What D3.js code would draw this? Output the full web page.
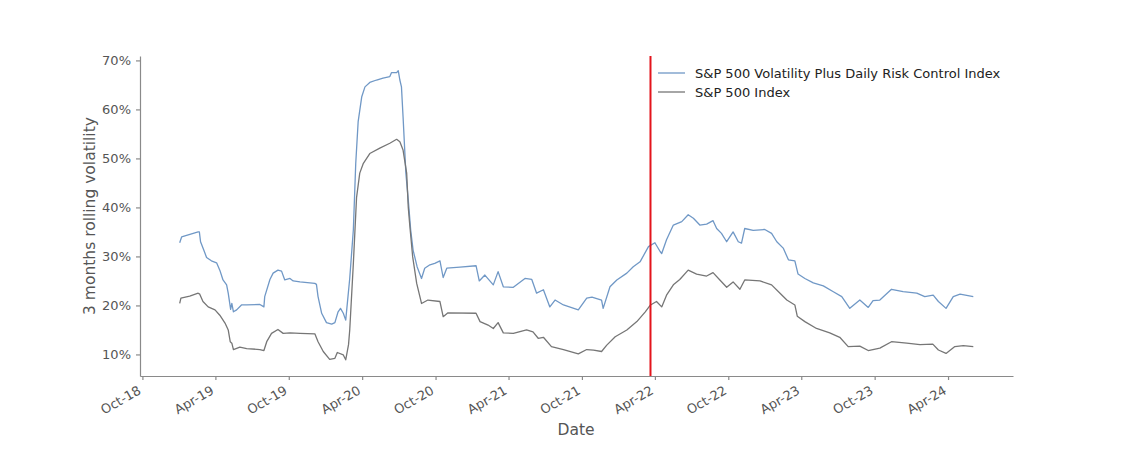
<!DOCTYPE html>
<html>
<head>
<meta charset="utf-8">
<script src="https://cdn.jsdelivr.net/npm/d3@7"></script>
<style>
  body { margin: 0; background: #fff; }
  text { font-family: "DejaVu Sans", sans-serif; }
</style>
</head>
<body>
<script>
// 3 months rolling volatility (percent)
const volPlus = [
  ["2019-01-02", 32.8], ["2019-01-07", 34.0], ["2019-01-15", 34.2], ["2019-02-17", 35.0],
  ["2019-02-20", 35.0], ["2019-02-23", 33.0], ["2019-03-03", 31.3], ["2019-03-10", 29.8],
  ["2019-03-22", 29.1], ["2019-04-04", 28.7], ["2019-04-12", 27.2], ["2019-04-20", 25.2],
  ["2019-04-29", 24.2], ["2019-05-03", 22.5], ["2019-05-09", 19.2], ["2019-05-12", 20.4],
  ["2019-05-16", 18.7], ["2019-05-24", 19.1], ["2019-06-05", 20.1], ["2019-06-18", 20.1],
  ["2019-07-21", 20.2], ["2019-07-31", 19.7], ["2019-08-02", 21.8], ["2019-08-15", 25.3],
  ["2019-08-23", 26.6], ["2019-09-04", 27.2], ["2019-09-13", 27.0], ["2019-09-21", 25.2],
  ["2019-10-04", 25.5], ["2019-10-12", 25.0], ["2019-10-29", 24.8], ["2019-12-05", 24.5],
  ["2019-12-09", 24.3], ["2019-12-13", 21.8], ["2019-12-22", 18.4], ["2020-01-03", 16.5],
  ["2020-01-16", 16.2], ["2020-01-24", 16.5], ["2020-02-01", 18.7], ["2020-02-07", 19.4],
  ["2020-02-14", 18.4], ["2020-02-20", 17.0], ["2020-03-01", 25.5], ["2020-03-10", 35.4],
  ["2020-03-16", 49.0], ["2020-03-22", 57.5], ["2020-03-31", 62.6], ["2020-04-08", 64.6],
  ["2020-04-20", 65.5], ["2020-05-07", 66.0], ["2020-05-23", 66.4], ["2020-06-09", 66.7],
  ["2020-06-13", 67.5], ["2020-06-26", 67.5], ["2020-06-30", 67.9], ["2020-07-04", 66.0],
  ["2020-07-08", 64.6], ["2020-07-12", 58.5], ["2020-07-19", 47.0], ["2020-07-25", 41.5],
  ["2020-07-31", 35.4], ["2020-08-06", 31.3], ["2020-08-16", 27.9], ["2020-08-27", 25.5],
  ["2020-09-04", 27.6], ["2020-09-17", 28.3], ["2020-09-29", 28.6], ["2020-10-12", 29.1],
  ["2020-10-20", 25.7], ["2020-10-29", 27.6], ["2020-12-01", 27.8], ["2021-01-10", 28.1],
  ["2021-01-18", 25.0], ["2021-02-01", 26.2], ["2021-02-22", 24.2], ["2021-03-06", 26.9],
  ["2021-03-19", 23.8], ["2021-04-13", 23.7], ["2021-05-12", 25.5], ["2021-05-29", 25.3],
  ["2021-06-10", 22.5], ["2021-06-27", 23.2], ["2021-07-13", 19.7], ["2021-07-26", 21.1],
  ["2021-08-16", 20.1], ["2021-09-22", 19.1], ["2021-10-13", 21.5], ["2021-10-26", 21.7],
  ["2021-11-19", 21.1], ["2021-11-23", 19.4], ["2021-12-10", 23.8], ["2021-12-27", 25.2],
  ["2022-01-21", 26.6], ["2022-02-06", 27.9], ["2022-02-23", 28.9], ["2022-03-16", 32.0],
  ["2022-04-01", 32.8], ["2022-04-14", 31.0], ["2022-04-18", 30.6], ["2022-04-30", 33.4],
  ["2022-05-17", 36.4], ["2022-06-07", 37.1], ["2022-06-23", 38.5], ["2022-07-06", 37.8],
  ["2022-07-22", 36.4], ["2022-08-08", 36.6], ["2022-08-24", 37.3], ["2022-09-02", 35.7],
  ["2022-09-14", 34.7], ["2022-09-27", 33.0], ["2022-10-13", 35.0], ["2022-10-26", 33.0],
  ["2022-11-03", 32.7], ["2022-11-11", 35.7], ["2022-12-02", 35.3], ["2022-12-31", 35.5],
  ["2023-01-17", 34.7], ["2023-01-30", 33.0], ["2023-02-15", 31.7], ["2023-02-28", 29.3],
  ["2023-03-16", 29.1], ["2023-03-24", 26.4], ["2023-04-10", 25.5], ["2023-05-01", 24.6],
  ["2023-05-26", 24.0], ["2023-06-20", 22.8], ["2023-07-11", 21.8], ["2023-07-31", 19.4],
  ["2023-08-25", 21.1], ["2023-09-15", 19.6], ["2023-09-27", 21.0], ["2023-10-14", 21.1],
  ["2023-11-12", 23.3], ["2023-12-11", 22.8], ["2024-01-14", 22.5], ["2024-02-03", 21.8],
  ["2024-02-24", 22.1], ["2024-03-08", 20.8], ["2024-03-27", 19.4], ["2024-04-14", 21.8],
  ["2024-05-01", 22.3], ["2024-06-03", 21.8]
];

const spx = [
  ["2019-01-02", 20.4], ["2019-01-05", 21.5], ["2019-01-27", 21.9], ["2019-02-17", 22.5],
  ["2019-02-21", 22.3], ["2019-03-01", 20.8], ["2019-03-14", 19.7], ["2019-03-31", 19.1],
  ["2019-04-12", 18.0], ["2019-04-25", 16.4], ["2019-05-03", 15.0], ["2019-05-08", 12.6],
  ["2019-05-12", 12.3], ["2019-05-16", 11.0], ["2019-06-01", 11.5], ["2019-06-18", 11.2],
  ["2019-07-21", 11.0], ["2019-07-31", 10.8], ["2019-08-07", 12.6], ["2019-08-19", 14.3],
  ["2019-09-04", 15.1], ["2019-09-17", 14.3], ["2019-10-04", 14.4], ["2019-10-29", 14.3],
  ["2019-12-05", 14.2], ["2019-12-13", 12.6], ["2019-12-26", 10.6], ["2020-01-11", 9.0],
  ["2020-01-24", 9.2], ["2020-01-30", 10.4], ["2020-02-14", 9.9], ["2020-02-20", 8.9],
  ["2020-02-27", 12.0], ["2020-03-01", 15.0], ["2020-03-10", 28.5], ["2020-03-18", 42.0],
  ["2020-03-26", 47.0], ["2020-04-04", 49.0], ["2020-04-20", 51.0], ["2020-05-15", 52.1],
  ["2020-06-09", 53.1], ["2020-06-26", 53.9], ["2020-07-04", 53.4], ["2020-07-12", 51.7],
  ["2020-07-21", 47.0], ["2020-07-25", 40.0], ["2020-07-29", 36.1], ["2020-08-05", 29.9],
  ["2020-08-15", 24.5], ["2020-08-27", 20.4], ["2020-09-12", 21.1], ["2020-10-12", 20.8],
  ["2020-10-20", 17.7], ["2020-11-01", 18.5], ["2021-01-10", 18.4], ["2021-01-20", 16.7],
  ["2021-02-09", 16.0], ["2021-02-22", 15.3], ["2021-03-06", 16.5], ["2021-03-19", 14.4],
  ["2021-04-13", 14.3], ["2021-05-16", 15.0], ["2021-06-01", 14.6], ["2021-06-14", 13.3],
  ["2021-06-27", 13.5], ["2021-07-17", 11.6], ["2021-08-16", 11.0], ["2021-09-22", 10.1],
  ["2021-10-13", 11.0], ["2021-10-30", 10.9], ["2021-11-19", 10.6], ["2021-12-02", 11.9],
  ["2021-12-23", 13.6], ["2022-01-21", 15.0], ["2022-02-15", 16.7], ["2022-03-08", 18.7],
  ["2022-03-21", 20.1], ["2022-04-05", 20.8], ["2022-04-18", 19.7], ["2022-04-30", 22.1],
  ["2022-05-17", 24.2], ["2022-06-02", 25.3], ["2022-06-23", 27.2], ["2022-07-14", 26.4],
  ["2022-08-08", 26.0], ["2022-08-24", 26.7], ["2022-09-10", 25.2], ["2022-09-27", 23.7],
  ["2022-10-13", 24.8], ["2022-10-30", 23.3], ["2022-11-11", 25.2], ["2022-12-19", 25.0],
  ["2023-01-17", 24.2], ["2023-02-07", 22.5], ["2023-02-24", 21.1], ["2023-03-16", 20.1],
  ["2023-03-22", 17.8], ["2023-04-10", 16.7], ["2023-05-09", 15.3], ["2023-06-11", 14.4],
  ["2023-07-06", 13.5], ["2023-07-27", 11.6], ["2023-08-25", 11.7], ["2023-09-15", 10.8],
  ["2023-10-14", 11.3], ["2023-11-12", 12.6], ["2023-12-20", 12.3], ["2024-01-22", 12.0],
  ["2024-02-23", 12.1], ["2024-03-08", 10.9], ["2024-03-27", 10.2], ["2024-04-18", 11.6],
  ["2024-05-09", 11.8], ["2024-06-03", 11.6]
];

const seriesNames = ["S&P 500 Volatility Plus Daily Risk Control Index", "S&P 500 Index"];
const seriesColors = ["#7098c6", "#767676"];
const markerDate = "2022-03-21";
const yTicks = [10, 20, 30, 40, 50, 60, 70];
const xTicks = ["2018-10-01", "2019-04-01", "2019-10-01", "2020-04-01", "2020-10-01", "2021-04-01",
  "2021-10-01", "2022-04-01", "2022-10-01", "2023-04-01", "2023-10-01", "2024-04-01"];

const parse = d3.timeParse("%Y-%m-%d");
const W = 1125, H = 469;
const plotLeft = 140, plotRight = 1013, plotTop = 56, plotBottom = 376;

const svg = d3.select("body").append("svg")
  .attr("width", W)
  .attr("height", H);

const x = d3.scaleTime()
  .domain([parse("2018-09-25"), parse("2024-09-10")])
  .range([plotLeft, plotRight]);

const y = d3.scaleLinear()
  .domain([5.6, 70.9])
  .range([plotBottom, plotTop]);

// axes
const yAxis = svg.append("g")
  .attr("transform", `translate(${plotLeft},0)`)
  .call(d3.axisLeft(y).tickValues(yTicks).tickFormat(d => d + "%").tickSize(4).tickSizeOuter(0).tickPadding(5));

const xAxis = svg.append("g")
  .attr("transform", `translate(0,${plotBottom})`)
  .call(d3.axisBottom(x).tickValues(xTicks.map(parse)).tickFormat(d3.timeFormat("%b-%y")).tickSize(4).tickSizeOuter(0));

// rotated labels: right end of the rotated box sits under the tick
xAxis.selectAll(".tick text")
  .attr("text-anchor", "end")
  .attr("y", 0)
  .attr("dy", 0)
  .attr("transform", "translate(-1,17) rotate(-30)");

[yAxis, xAxis].forEach(a => {
  a.select(".domain").attr("stroke", "#8a8a8a").attr("stroke-width", 1.2);
  a.selectAll(".tick line").attr("stroke", "#8a8a8a").attr("stroke-width", 1.2);
  a.selectAll(".tick text").attr("fill", "#555").style("font-size", "13px");
});

svg.append("text")
  .attr("transform", `translate(95,${(plotTop + plotBottom) / 2}) rotate(-90)`)
  .attr("text-anchor", "middle")
  .attr("fill", "#555")
  .style("font-size", "15.5px")
  .text("3 months rolling volatility");

svg.append("text")
  .attr("x", 576)
  .attr("y", 435)
  .attr("text-anchor", "middle")
  .attr("fill", "#555")
  .style("font-size", "15.5px")
  .text("Date");

// lines
const line = d3.line()
  .x(d => x(parse(d[0])))
  .y(d => y(d[1]));

[volPlus, spx].forEach((s, i) => {
  svg.append("path")
    .datum(s)
    .attr("fill", "none")
    .attr("stroke", seriesColors[i])
    .attr("stroke-width", 1.3)
    .attr("stroke-linejoin", "round")
    .attr("d", line);
});

// launch marker
svg.append("line")
  .attr("x1", x(parse(markerDate)))
  .attr("x2", x(parse(markerDate)))
  .attr("y1", plotTop)
  .attr("y2", plotBottom)
  .attr("stroke", "#e3141c")
  .attr("stroke-width", 2);

// legend
const legend = svg.append("g").attr("transform", "translate(658,73)");
seriesNames.forEach((name, i) => {
  const row = legend.append("g").attr("transform", `translate(0,${i * 19})`);
  row.append("line")
    .attr("x1", 0).attr("x2", 27)
    .attr("stroke", seriesColors[i])
    .attr("stroke-width", 1.3);
  row.append("text")
    .attr("x", 37)
    .attr("dy", "0.35em")
    .attr("fill", "#222")
    .style("font-size", "13px")
    .text(name);
});
</script>
</body>
</html>
